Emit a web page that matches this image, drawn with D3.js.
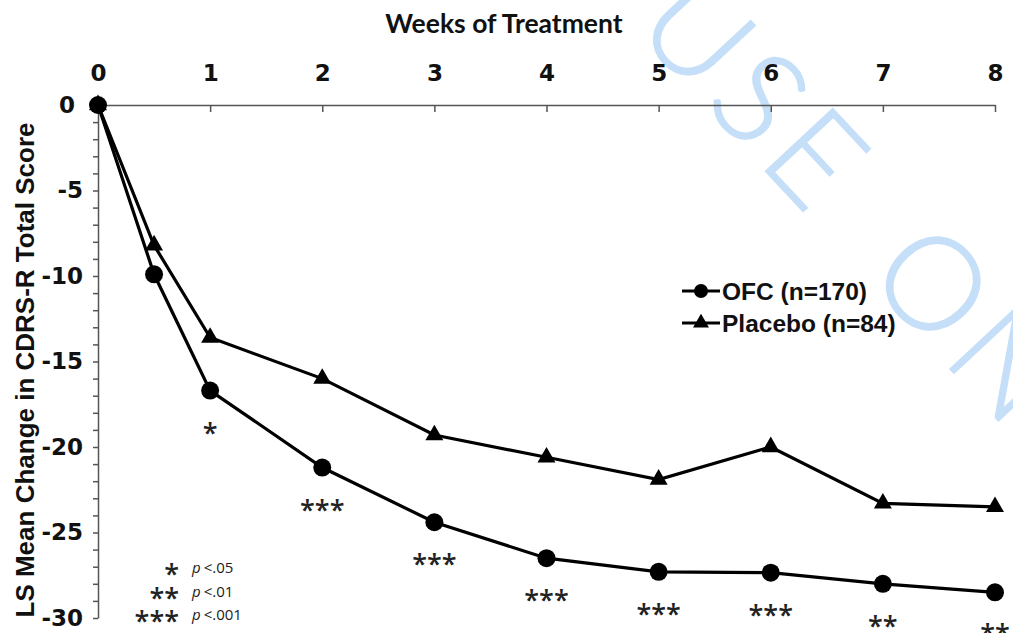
<!DOCTYPE html>
<html>
<head>
<meta charset="UTF-8">
<title>LS Mean Change in CDRS-R Total Score</title>
<style>
  body { margin: 0; background: #fff; }
  svg { display: block; }
  .axis path, .axis line { stroke: #555; stroke-width: 1.5; }
  .axis text { font-family: "DejaVu Sans", sans-serif; font-weight: bold; font-size: 23px; fill: #111; }
  .stars { font-family: "Open Sans", sans-serif; font-weight: 600; font-size: 27px; fill: #222; }
</style>
</head>
<body>
<svg id="chart" width="1013" height="633"></svg>
<script src="https://cdnjs.cloudflare.com/ajax/libs/d3/7.8.5/d3.min.js"></script>
<script>
// values
const weeks = [0, 0.5, 1, 2, 3, 4, 5, 6, 7, 8];
const ofc = [0, -9.9, -16.7, -21.2, -24.4, -26.5, -27.3, -27.35, -28.0, -28.5];
const placebo = [0, -8.2, -13.6, -16.0, -19.3, -20.6, -21.9, -20.0, -23.3, -23.5];
const xTicks = [0, 1, 2, 3, 4, 5, 6, 7, 8];
const yTicks = d3.range(0, -31, -1);
const sigWeeks = [1, 2, 3, 4, 5, 6, 7, 8];
const sigMarks = ['*', '***', '***', '***', '***', '***', '**', '**'];
const sigKeys = ['*', '**', '***'];
const sigLevels = ['<.05', '<.01', '<.001'];
const seriesNames = ['OFC (n=170)', 'Placebo (n=84)'];

const svg = d3.select('#chart');

const x = d3.scaleLinear().domain([0, 8]).range([98, 995]);
const y = d3.scaleLinear().domain([0, -30]).range([105, 618]);

// watermark
svg.append('text')
  .attr('transform', 'translate(632,28) rotate(47)')
  .attr('font-family', 'Lato, sans-serif')
  .attr('font-weight', 300)
  .attr('font-size', 130)
  .attr('letter-spacing', 9)
  .attr('word-spacing', 30)
  .attr('fill', '#c6dff9')
  .attr('stroke', '#c6dff9')
  .attr('stroke-width', 1.5)
  .text('USE ONLY');

// axes
svg.append('g')
  .attr('class', 'axis')
  .attr('transform', 'translate(0,105)')
  .call(d3.axisTop(x).tickValues(xTicks).tickSizeInner(-7).tickSizeOuter(0).tickPadding(24))
  .call(g => g.selectAll('.tick text').attr('dy', 0));

svg.append('g')
  .attr('class', 'axis')
  .attr('transform', 'translate(98,0)')
  .call(d3.axisLeft(y).tickValues(yTicks).tickSize(5).tickSizeOuter(0).tickPadding(10)
    .tickFormat(d => d % 5 === 0 ? String(d) : ''))
  .call(g => g.selectAll('.tick text').filter(d => d === 0).attr('dx', -8));

// titles
svg.append('text')
  .attr('x', 504).attr('y', 33)
  .attr('text-anchor', 'middle')
  .attr('font-family', 'Lato, sans-serif')
  .attr('font-weight', 'bold')
  .attr('font-size', 26.5)
  .attr('fill', '#111')
  .text('Weeks of Treatment');

svg.append('text')
  .attr('transform', 'translate(25,370) rotate(-90)')
  .attr('text-anchor', 'middle')
  .attr('dominant-baseline', 'central')
  .attr('font-family', '"Liberation Sans", Arial, sans-serif')
  .attr('font-weight', 'bold')
  .attr('font-size', 26)
  .attr('fill', '#111')
  .text('LS Mean Change in CDRS-R Total Score');

// series
const line = d3.line().x((d, i) => x(weeks[i])).y(d => y(d));
const tri = d3.symbol().type(d3.symbolTriangle).size(140);

svg.append('path').datum(placebo)
  .attr('d', line).attr('fill', 'none').attr('stroke', '#000').attr('stroke-width', 3.2);
svg.append('path').datum(ofc)
  .attr('d', line).attr('fill', 'none').attr('stroke', '#000').attr('stroke-width', 3.2);

svg.append('g').selectAll('path')
  .data(placebo)
  .join('path')
  .attr('d', tri)
  .attr('transform', (d, i) => `translate(${x(weeks[i])},${y(d)})`)
  .attr('fill', '#000');

svg.append('g').selectAll('circle')
  .data(ofc)
  .join('circle')
  .attr('cx', (d, i) => x(weeks[i]))
  .attr('cy', d => y(d))
  .attr('r', 9)
  .attr('fill', '#000');

// significance marks under OFC points
svg.append('g').selectAll('text')
  .data(sigWeeks)
  .join('text')
  .attr('class', 'stars')
  .attr('x', d => x(d))
  .attr('y', d => y(ofc[weeks.indexOf(d)]) + 52)
  .attr('text-anchor', 'middle')
  .text((d, i) => sigMarks[i]);

// significance key
const key = svg.append('g');
key.selectAll('text.stars')
  .data(sigKeys)
  .join('text')
  .attr('class', 'stars')
  .attr('x', 179)
  .attr('y', (d, i) => 584 + i * 23.5)
  .attr('text-anchor', 'end')
  .text(d => d);

key.selectAll('text.lvl')
  .data(sigLevels)
  .join('text')
  .attr('class', 'lvl')
  .attr('x', 192)
  .attr('y', (d, i) => 573 + i * 23.5)
  .attr('font-family', '"Open Sans", sans-serif')
  .attr('font-size', 15)
  .attr('fill', '#222')
  .call(t => t.append('tspan').attr('font-style', 'italic').text('p'))
  .call(t => t.append('tspan').attr('dx', 3).text(d => d));

// series legend
const leg = svg.append('g').selectAll('g')
  .data(seriesNames)
  .join('g')
  .attr('transform', (d, i) => `translate(682,${291 + i * 32})`);

leg.append('line')
  .attr('x1', 0).attr('x2', 38)
  .attr('stroke', '#000').attr('stroke-width', 3);

leg.filter((d, i) => i === 0).append('circle')
  .attr('cx', 19).attr('r', 7).attr('fill', '#000');
leg.filter((d, i) => i === 1).append('path')
  .attr('d', d3.symbol().type(d3.symbolTriangle).size(110))
  .attr('transform', 'translate(19,0)')
  .attr('fill', '#000');

leg.append('text')
  .attr('x', 40).attr('y', 8.5)
  .attr('font-family', '"Liberation Sans", Arial, sans-serif')
  .attr('font-weight', 'bold')
  .attr('font-size', 24.5)
  .attr('fill', '#111')
  .text(d => d);
</script>
</body>
</html>
